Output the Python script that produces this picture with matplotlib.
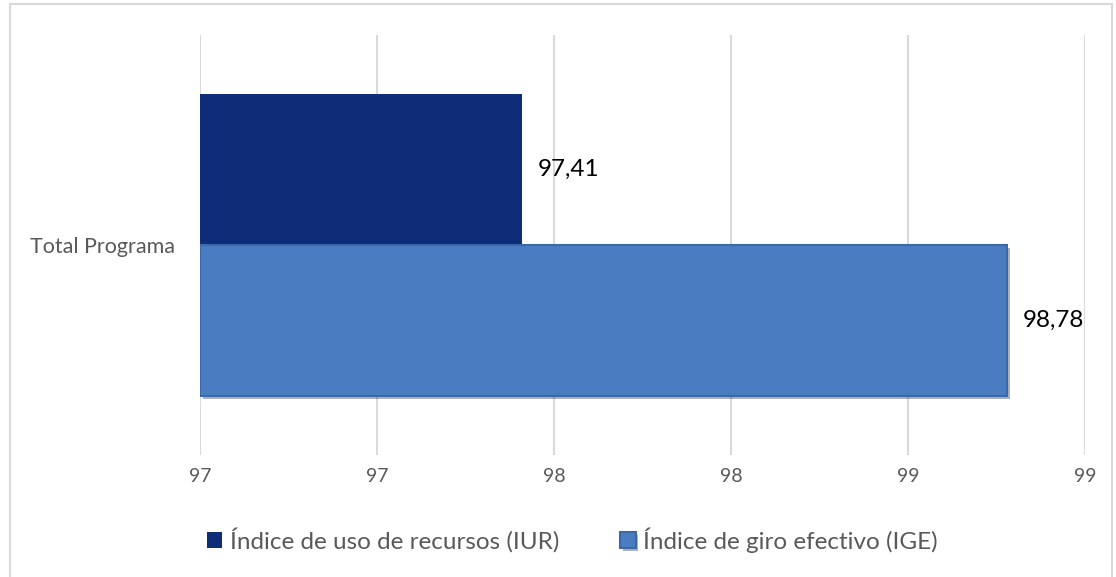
import matplotlib.pyplot as plt
import matplotlib.patheffects as pe
from matplotlib.patches import Rectangle
import numpy as np

plt.rcParams['font.family'] = ['Lato', 'DejaVu Sans']

category = 'Total Programa'
series = ['Índice de uso de recursos (IUR)', 'Índice de giro efectivo (IGE)']
values = [97.41, 98.78]
colors = ['#0F2C78', '#4A7CC2']
x_ticks = [96.5, 97.0, 97.5, 98.0, 98.5, 99.0]

fig = plt.figure(figsize=(11.16, 5.77), dpi=100)
ax = fig.add_axes([0.1792, 0.2114, 0.793, 0.728])

# outer chart border
fig.patches.append(Rectangle((10 / 1116, -0.01), 1102 / 1116, 1 - 4 / 577 + 0.01,
                             transform=fig.transFigure, fill=False,
                             edgecolor='#D9D9D9', linewidth=1.5))

h = 0.36
ypos = [h / 2, -h / 2]
for i, (name, v, c) in enumerate(zip(series, values, colors)):
    if i == 1:
        # bevelled look for the second series
        b = ax.barh(ypos[i], v - x_ticks[0], left=x_ticks[0], height=h, color=c,
                    edgecolor='#3D68A6', linewidth=1.5, label=name, zorder=3)
        for p in b:
            p.set_path_effects([pe.SimplePatchShadow(offset=(2, -2), alpha=0.35),
                                pe.Normal()])
    else:
        ax.barh(ypos[i], v - x_ticks[0], left=x_ticks[0], height=h, color=c,
                label=name, zorder=3)

# data labels
for i, v in enumerate(values):
    ax.annotate(f'{v:.2f}'.replace('.', ','), (v, ypos[i]),
                xytext=(11 if i == 0 else 11, 0), textcoords='offset points',
                va='center', ha='left', fontsize=17.5, color='black')

ax.set_xlim(x_ticks[0], x_ticks[-1])
ax.set_ylim(-0.5, 0.5)
ax.set_xticks(x_ticks)
ax.set_xticklabels([str(int(np.floor(t + 0.5))) for t in x_ticks])
ax.set_yticks([0])
ax.set_yticklabels([category])
ax.tick_params(axis='x', length=0, pad=9, labelsize=14, labelcolor='#595959')
ax.tick_params(axis='y', length=0, pad=18, labelsize=15.5, labelcolor='#595959')
ax.xaxis.grid(True, color='#D9D9D9', linewidth=1.5, zorder=0)
ax.set_axisbelow(True)
for s in ax.spines.values():
    s.set_visible(False)

fig.legend(loc='center', bbox_to_anchor=(572 / 1116, 1 - 540 / 577), ncol=2,
           frameon=False, fontsize=17.5, handlelength=0.65, handleheight=0.65,
           handletextpad=0.3, columnspacing=2.5, labelcolor='#595959')

fig.savefig('out.png', dpi=100)
